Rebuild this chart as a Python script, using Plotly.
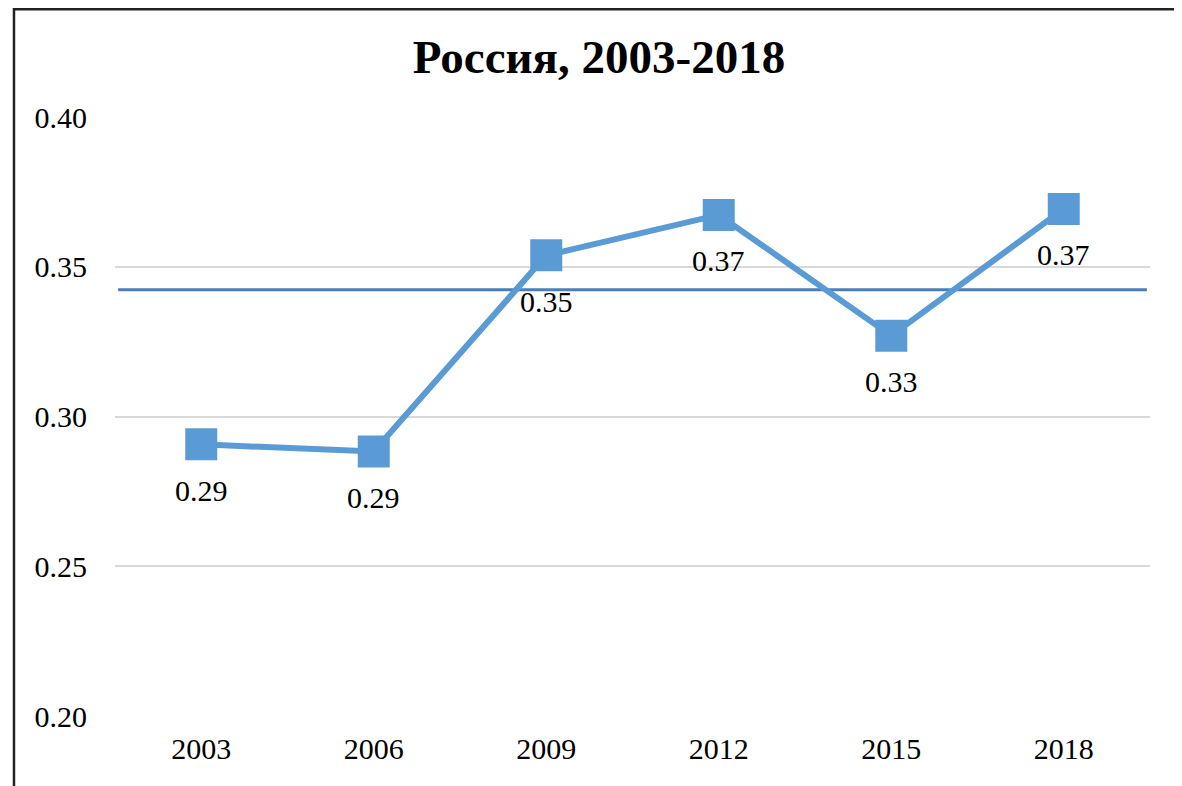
import plotly.graph_objects as go

years = ["2003", "2006", "2009", "2012", "2015", "2018"]
values = [0.2907, 0.2883, 0.3538, 0.3673, 0.3270, 0.3693]
labels = ["0.29", "0.29", "0.35", "0.37", "0.33", "0.37"]
mean_level = 0.3423
title_text = "Россия, 2003-2018"
y_ticks = [0.20, 0.25, 0.30, 0.35, 0.40]

FONT = "Liberation Serif, Times New Roman, serif"

fig = go.Figure()
fig.add_trace(go.Scatter(
    x=years, y=values, mode="lines+markers",
    line=dict(color="#5B9BD5", width=6),
    marker=dict(symbol="square", size=32, color="#5B9BD5"),
    showlegend=False, cliponaxis=False,
))

for i, (yv, lab) in enumerate(zip(values, labels)):
    fig.add_annotation(x=i, y=yv, xref="x", yref="y", text=lab,
                       showarrow=False, yshift=-46,
                       font=dict(family=FONT, size=30, color="#000000"))

fig.add_shape(type="line", xref="paper", yref="y", x0=0.003, x1=0.997,
              y0=mean_level, y1=mean_level, layer="between",
              line=dict(color="#4A7EBB", width=3))

# outer frame
fig.add_shape(type="rect", xref="paper", yref="paper",
              x0=-0.0976, x1=1.027, y0=-0.2, y1=1.18,
              line=dict(color="#222222", width=2.5), layer="above")

fig.update_layout(
    width=1182, height=786,
    margin=dict(l=107, r=40, t=109, b=78),
    paper_bgcolor="white", plot_bgcolor="white",
    title=dict(text="<b>" + title_text + "</b>", x=0.5, xanchor="center",
               y=0.938, yanchor="middle",
               font=dict(family=FONT, size=47, color="#000000")),
    font=dict(family=FONT, size=30, color="#000000"),
)
fig.update_xaxes(type="category", categoryorder="array", categoryarray=years,
                 range=[-0.5, 5.5], showgrid=False,
                 showline=False, zeroline=False, ticks="",
                 ticklabelstandoff=12,
                 tickfont=dict(family=FONT, size=30, color="#000000"))
fig.update_yaxes(range=[0.2, 0.4], tickvals=y_ticks, tickformat=".2f",
                 showgrid=True, gridcolor="#D9D9D9", gridwidth=1.5,
                 zeroline=False, showline=False, ticks="",
                 ticklabelstandoff=27,
                 tickfont=dict(family=FONT, size=30, color="#000000"))

fig.write_html("out.html")
